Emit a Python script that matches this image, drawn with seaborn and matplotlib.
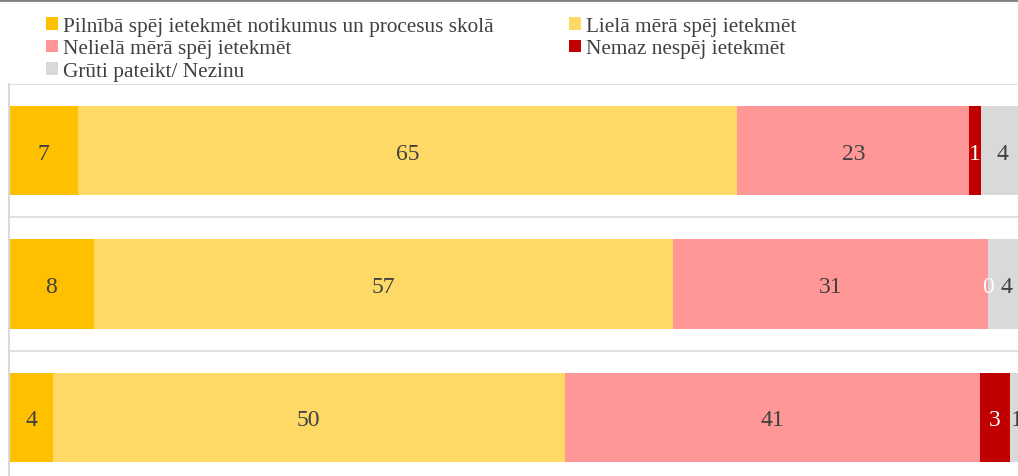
import matplotlib
matplotlib.use("Agg")
import matplotlib.pyplot as plt
from matplotlib.patches import Patch
from matplotlib.lines import Line2D
import numpy as np
import pandas as pd
import seaborn as sns

# ---- data ----
categories = ["Grupa 1", "Grupa 2", "Grupa 3"]
series_names = [
    "Pilnībā spēj ietekmēt notikumus un procesus skolā",
    "Lielā mērā spēj ietekmēt",
    "Nelielā mērā spēj ietekmēt",
    "Nemaz nespēj ietekmēt",
    "Grūti pateikt/ Nezinu",
]
pilniba = [6.8, 8.3, 4.3]
liela = [64.9, 57.1, 50.4]
neliela = [22.9, 31.0, 40.9]
nemaz = [1.1, 0.0, 3.0]
gruti = [4.3, 3.6, 1.4]
series_values = [pilniba, liela, neliela, nemaz, gruti]

colors = ["#FFC000", "#FFD966", "#FF9797", "#C00000", "#D9D9D9"]
label_colors = ["#404040", "#404040", "#404040", "white", "#404040"]

sns.set_theme(style="white")
plt.rcParams["font.family"] = ["Liberation Serif", "DejaVu Serif"]

W, H = 1018, 477
fig = plt.figure(figsize=(W / 100, H / 100), dpi=100)
ax = fig.add_axes([9.3 / W, -8 / H, 1015 / W, 400 / H])

vals = np.array(series_values)
cum = np.cumsum(vals, axis=0)

# draw cumulative bars from the longest to the shortest so they stack
for i in range(len(series_names) - 1, -1, -1):
    df = pd.DataFrame({"cat": categories, "val": cum[i]})
    sns.barplot(data=df, x="val", y="cat", orient="h", color=colors[i],
                saturation=1, width=0.67, linewidth=0, ax=ax, zorder=2)

# segment labels
for i in range(len(series_names)):
    for j, c in enumerate(categories):
        center = cum[i, j] - vals[i, j] / 2
        ax.text(center, j, f"{vals[i, j]:.0f}", ha="center", va="center_baseline",
                fontsize=17, color=label_colors[i], zorder=5)

ax.set_xlim(0, 100)
ax.set_ylim(2.5, -0.5)
ax.set_xlabel("")
ax.set_ylabel("")
ax.set_xticks([])
ax.set_yticks([])
ax.set_yticks([-0.5, 0.5, 1.5], minor=True)
ax.tick_params(which="both", length=0)
ax.grid(False)
ax.grid(which="minor", axis="y", color="#D9D9D9", linewidth=1.2, zorder=0)
for s in ["top", "right", "bottom"]:
    ax.spines[s].set_visible(False)
ax.spines["left"].set_color("#D9D9D9")
ax.spines["left"].set_linewidth(1.5)

# legend (column-major ordering to reproduce row layout)
order = [0, 2, 4, 1, 3]
handles = [Patch(facecolor=colors[k], edgecolor="none") for k in order]
labels = [series_names[k] for k in order]
fig.legend(handles, labels, ncol=2, loc="upper left",
           bbox_to_anchor=(31 / W, 1 - 3 / H), frameon=False,
           fontsize=15.3, labelcolor="#404040",
           handlelength=0.55, handleheight=0.55, handletextpad=0.25,
           columnspacing=3.55, labelspacing=0.17, borderpad=0.2)

# top border line of the surrounding frame
fig.add_artist(Line2D([0, 1], [1 - 1 / H, 1 - 1 / H], transform=fig.transFigure,
                      color="#808080", linewidth=2))

fig.savefig("out.png", dpi=100)
